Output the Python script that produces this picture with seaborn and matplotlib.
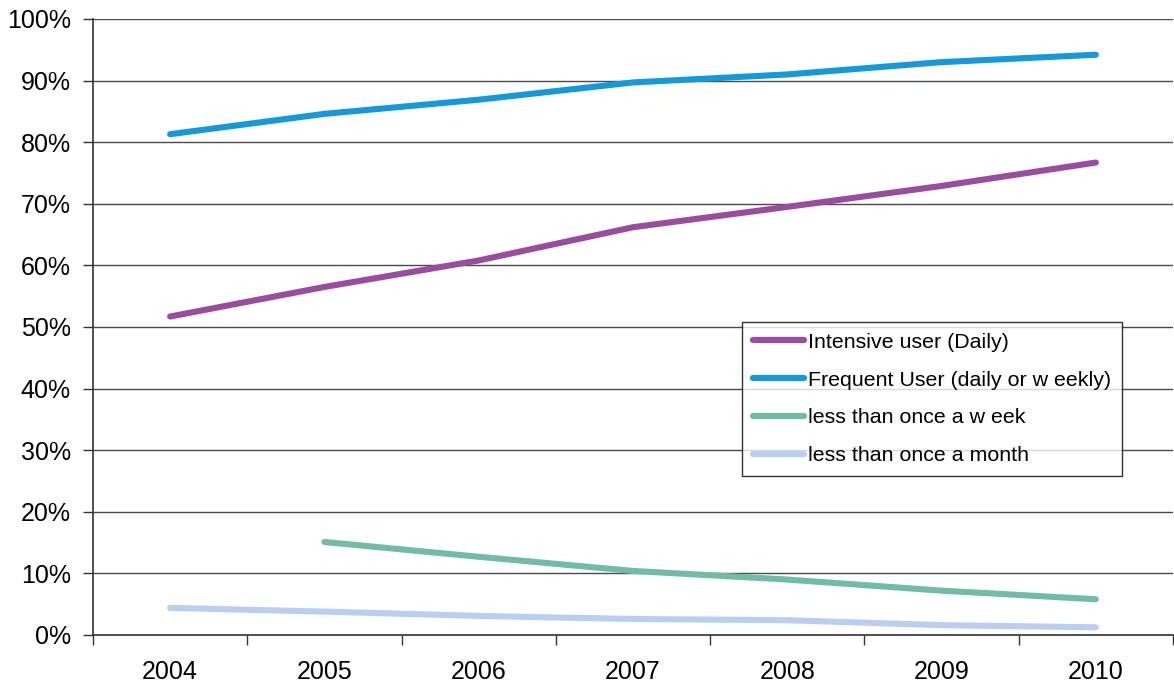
import numpy as np
import pandas as pd
import matplotlib
matplotlib.use("Agg")
import matplotlib.pyplot as plt
import seaborn as sns

years = [2004, 2005, 2006, 2007, 2008, 2009, 2010]
intensive = [51.7, 56.5, 60.8, 66.2, 69.5, 72.9, 76.7]
frequent = [81.3, 84.6, 86.9, 89.7, 91.0, 93.0, 94.2]
less_week = [np.nan, 15.1, 12.7, 10.4, 9.0, 7.2, 5.8]
less_month = [4.4, 3.8, 3.1, 2.6, 2.4, 1.6, 1.25]

series_names = [
    "Intensive user (Daily)",
    "Frequent User (daily or w eekly)",
    "less than once a w eek",
    "less than once a month",
]
series_values = [intensive, frequent, less_week, less_month]
colors = ["#9A4C9E", "#1699D9", "#72BBA6", "#BACEF1"]

frames = []
for name, vals in zip(series_names, series_values):
    frames.append(pd.DataFrame({"year": years, "share": vals, "series": name}))
df = pd.concat(frames, ignore_index=True).dropna()

sns.set_theme(style="white")
plt.rcParams["font.family"] = ["Liberation Sans", "DejaVu Sans"]
plt.rcParams["text.color"] = "black"

fig = plt.figure(figsize=(11.74, 6.89), dpi=100)
ax = fig.add_axes([93 / 1174, 54 / 689, 1080 / 1174, 616 / 689])

sns.lineplot(
    data=df, x="year", y="share", hue="series", hue_order=series_names,
    palette=colors, linewidth=4.4, ax=ax, sort=False,
    solid_capstyle="round",
)

ax.set_xlim(2003.5, 2010.5)
ax.set_ylim(0, 100)
ax.set_xlabel("")
ax.set_ylabel("")

ax.set_yticks(np.arange(0, 101, 10))
ax.set_yticklabels([f"{v}%" for v in range(0, 101, 10)], fontsize=18)
ax.set_xticks(years)
ax.set_xticklabels([str(y) for y in years], fontsize=18)
ax.set_xticks(np.arange(2003.5, 2011, 1), minor=True)
ax.tick_params(axis="x", which="major", length=0, pad=18, labelcolor="black")
ax.tick_params(axis="x", which="minor", length=7, width=1, color="#333333",
               direction="out", bottom=True)
ax.tick_params(axis="y", which="major", length=7, width=1, color="#333333",
               direction="out", left=True, pad=9, labelcolor="black")

ax.yaxis.grid(True, color="#4a4a4a", linewidth=1)
ax.xaxis.grid(False)
ax.set_axisbelow(True)

for side in ["top", "right"]:
    ax.spines[side].set_visible(False)
for side in ["left", "bottom"]:
    ax.spines[side].set_color("#333333")
    ax.spines[side].set_linewidth(1.2)

leg = ax.legend(
    loc="upper left", bbox_to_anchor=(649 / 1080, (635 - 322) / 616),
    frameon=True, fancybox=False, edgecolor="black", fontsize=15.4,
    handlelength=2.4, handletextpad=0.2, borderpad=0.5, labelspacing=0.88,
    borderaxespad=0,
)
leg.get_frame().set_linewidth(1.0)
for text in leg.get_texts():
    text.set_color("black")
for line in leg.get_lines():
    line.set_linewidth(4.5)
    line.set_solid_capstyle("round")

fig.savefig("out.png", dpi=100)
